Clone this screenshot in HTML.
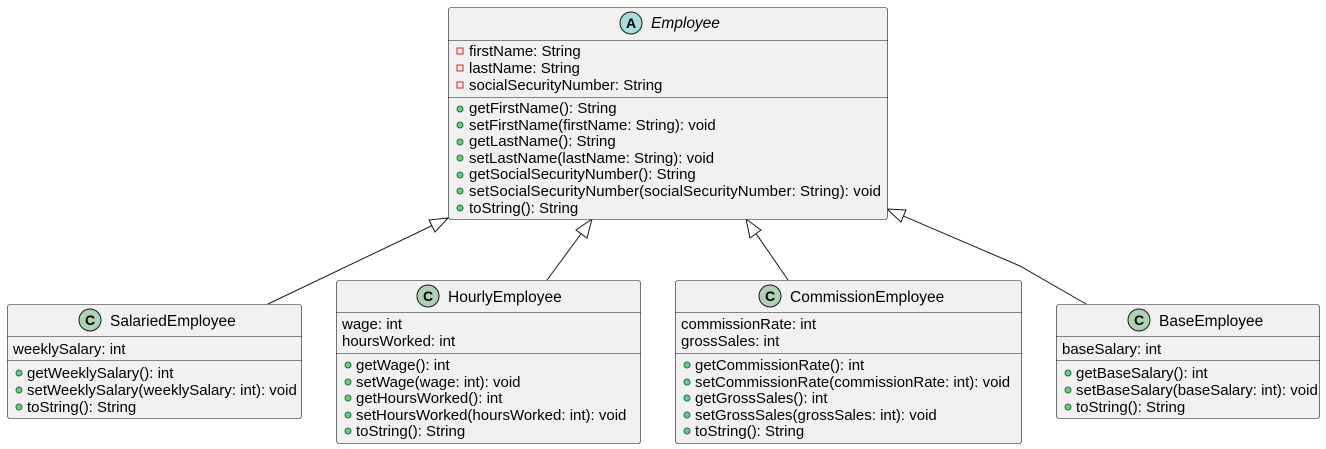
<!DOCTYPE html>
<html><head><meta charset="utf-8"><style>
html,body{margin:0;padding:0;background:#fff;}
svg{display:block;font-family:"Liberation Sans",sans-serif;font-size:15px;}
</style></head><body>
<svg width="1326" height="449" viewBox="0 0 1326 449">
<defs>
<g id="pub"><circle r="3" fill="#84BE84" stroke="#038048" stroke-width="1"/></g>
<g id="priv"><rect x="-3" y="-3" width="6" height="6" fill="none" stroke="#C82930" stroke-width="1"/></g>
</defs>
<g stroke="#181818" stroke-width="1" fill="none">
<line x1="268" y1="304" x2="448" y2="218"/>
<polygon points="448,218 429,220 435,232" fill="#fff"/>
<line x1="547" y1="280" x2="592" y2="219"/>
<polygon points="592,219 576,230 587,238" fill="#fff"/>
<line x1="788" y1="280" x2="746" y2="219"/>
<polygon points="746,219 750,238 761,230" fill="#fff"/>
<polyline points="1086,304 1020,266 887,209"/>
<polygon points="887,209 901,222 906,210" fill="#fff"/>
</g>
<g fill="#F1F1F1" stroke="#181818" stroke-width="0.6">
<rect x="448.5" y="7.5" width="439" height="212" rx="2.5"/>
<rect x="7.5" y="304.5" width="294" height="114" rx="2.5"/>
<rect x="336.5" y="280.5" width="304" height="163" rx="2.5"/>
<rect x="675.5" y="280.5" width="346" height="163" rx="2.5"/>
<rect x="1056.5" y="304.5" width="263" height="114" rx="2.5"/>
</g>
<g stroke="#181818" stroke-width="0.6">
<line x1="448" y1="40.5" x2="888" y2="40.5"/><line x1="448" y1="97.5" x2="888" y2="97.5"/>
<line x1="7" y1="336.5" x2="302" y2="336.5"/><line x1="7" y1="360.5" x2="302" y2="360.5"/>
<line x1="336" y1="312.5" x2="641" y2="312.5"/><line x1="336" y1="353.5" x2="641" y2="353.5"/>
<line x1="675" y1="312.5" x2="1022" y2="312.5"/><line x1="675" y1="353.5" x2="1022" y2="353.5"/>
<line x1="1056" y1="336.5" x2="1320" y2="336.5"/><line x1="1056" y1="360.5" x2="1320" y2="360.5"/>
</g>
<g stroke="#181818" stroke-width="1">
<circle cx="631" cy="23" r="11" fill="#A9DCDF"/>
<circle cx="90" cy="320" r="11" fill="#ADD1B2"/>
<circle cx="428" cy="296" r="11" fill="#ADD1B2"/>
<circle cx="770" cy="296" r="11" fill="#ADD1B2"/>
<circle cx="1139" cy="320" r="11" fill="#ADD1B2"/>
</g>
<g font-weight="bold" font-size="14" text-anchor="middle" fill="#000">
<text x="631" y="28">A</text><text x="90" y="325">C</text><text x="428" y="301">C</text><text x="770" y="301">C</text><text x="1139" y="325">C</text>
</g>
<g fill="#000" font-size="15.5">
<text x="651" y="28" font-style="italic">Employee</text>
<text x="110" y="326">SalariedEmployee</text>
<text x="448" y="302">HourlyEmployee</text>
<text x="790" y="302">CommissionEmployee</text>
<text x="1159" y="326">BaseEmployee</text>
</g>
<g fill="#000">
<use href="#priv" x="460" y="51"/><use href="#priv" x="460" y="68"/><use href="#priv" x="460" y="85"/>
<text x="469" y="56">firstName: String</text>
<text x="469" y="73">lastName: String</text>
<text x="469" y="90">socialSecurityNumber: String</text>
<use href="#pub" x="460" y="109"/><use href="#pub" x="460" y="125"/><use href="#pub" x="460" y="142"/><use href="#pub" x="460" y="158"/><use href="#pub" x="460" y="175"/><use href="#pub" x="460" y="191"/><use href="#pub" x="460" y="208"/>
<text x="469" y="113">getFirstName(): String</text>
<text x="469" y="130">setFirstName(firstName: String): void</text>
<text x="469" y="146">getLastName(): String</text>
<text x="469" y="163">setLastName(lastName: String): void</text>
<text x="469" y="179">getSocialSecurityNumber(): String</text>
<text x="469" y="196" textLength="412">setSocialSecurityNumber(socialSecurityNumber: String): void</text>
<text x="469" y="213">toString(): String</text>

<text x="13" y="354">weeklySalary: int</text>
<use href="#pub" x="19" y="373"/><use href="#pub" x="19" y="390"/><use href="#pub" x="19" y="407"/>
<text x="27" y="378">getWeeklySalary(): int</text>
<text x="27" y="395">setWeeklySalary(weeklySalary: int): void</text>
<text x="27" y="412">toString(): String</text>

<text x="342" y="329">wage: int</text>
<text x="342" y="346">hoursWorked: int</text>
<use href="#pub" x="348" y="365"/><use href="#pub" x="348" y="382"/><use href="#pub" x="348" y="398"/><use href="#pub" x="348" y="415"/><use href="#pub" x="348" y="431"/>
<text x="356" y="370">getWage(): int</text>
<text x="356" y="387">setWage(wage: int): void</text>
<text x="356" y="403">getHoursWorked(): int</text>
<text x="356" y="420">setHoursWorked(hoursWorked: int): void</text>
<text x="356" y="436">toString(): String</text>

<text x="681" y="329">commissionRate: int</text>
<text x="681" y="346">grossSales: int</text>
<use href="#pub" x="687" y="365"/><use href="#pub" x="687" y="382"/><use href="#pub" x="687" y="398"/><use href="#pub" x="687" y="415"/><use href="#pub" x="687" y="431"/>
<text x="695" y="370">getCommissionRate(): int</text>
<text x="695" y="387">setCommissionRate(commissionRate: int): void</text>
<text x="695" y="403">getGrossSales(): int</text>
<text x="695" y="420">setGrossSales(grossSales: int): void</text>
<text x="695" y="436">toString(): String</text>

<text x="1062" y="354">baseSalary: int</text>
<use href="#pub" x="1068" y="373"/><use href="#pub" x="1068" y="390"/><use href="#pub" x="1068" y="407"/>
<text x="1076" y="378">getBaseSalary(): int</text>
<text x="1076" y="395">setBaseSalary(baseSalary: int): void</text>
<text x="1076" y="412">toString(): String</text>
</g>
</svg>
</body></html>
